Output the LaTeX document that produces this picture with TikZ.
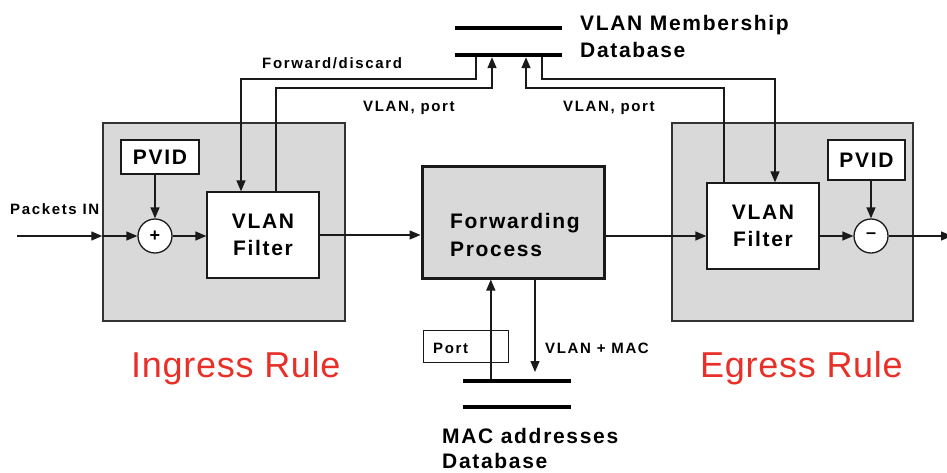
\documentclass[tikz,border=0pt]{standalone}
\usepackage{fontspec}
\setmainfont{Liberation Sans}
\newfontfamily\wbf[LetterSpace=8]{Liberation Sans Bold}
\newfontfamily\wbfs[LetterSpace=11]{Liberation Sans Bold}
\newfontfamily\rulefont[LetterSpace=2]{Liberation Sans}
\usetikzlibrary{arrows.meta}
\definecolor{boxgray}{RGB}{217,217,217}
\definecolor{inkline}{RGB}{26,26,26}
\definecolor{rulered}{RGB}{232,48,40}
\tikzset{
  arr/.style={draw=inkline, line width=1.4pt, -{Triangle[length=11pt,width=9pt]}},
  rulebox/.style={draw=black!80, line width=1.5pt, fill=boxgray, inner sep=0pt},
  whitebox/.style={draw=inkline, line width=1.3pt, fill=white, inner sep=0pt},
  dbline/.style={fill=black, inner sep=0pt, minimum height=4pt},
  sumnode/.style={circle, draw=inkline, line width=1.3pt, fill=white, minimum size=34pt, inner sep=0pt,
                  font=\wbf\fontsize{18}{18}\selectfont},
  big/.style={font=\wbf\fontsize{21}{27}\selectfont},
  small/.style={font=\wbfs\fontsize{15}{18}\selectfont},
  rulelabel/.style={font=\rulefont\fontsize{36}{40}\selectfont, text=rulered, anchor=base west, inner sep=0pt},
}
\begin{document}
\begin{tikzpicture}[x=1pt, y=-1pt]
\useasboundingbox (0,0) rectangle (947,472);

% --- VLAN membership database
\node[dbline, minimum width=107pt] (vmdb1) at (508.5,28) {};
\node[dbline, minimum width=107pt] (vmdb2) at (508.5,55) {};
\node[big, anchor=base west, inner sep=0pt] (vmdbt1) at (580,30) {VLAN Membership};
\node[big, anchor=base west, inner sep=0pt] (vmdbt2) at (580,57) {Database};

% --- ingress side
\node[rulebox, minimum width=242pt, minimum height=198pt] (ingress) at (224,222) {};
\node[whitebox, minimum width=78pt, minimum height=34pt, big] (pvidL) at (160,157) {PVID};
\node[sumnode] (plus) at (155,236) {+};
\node[whitebox, minimum width=112pt, minimum height=86pt, big, align=center] (filterL) at (263,235) {VLAN\\Filter};
\node[small, anchor=base west, inner sep=0pt] (pin) at (10,214) {Packets IN};

% --- forwarding process
\node[draw=inkline, line width=3pt, fill=boxgray, minimum width=182pt, minimum height=112pt, inner sep=0pt] (fwd) at (513,222) {};
\node[big, anchor=base west, inner sep=0pt] (fwdt1) at (450,228) {Forwarding};
\node[big, anchor=base west, inner sep=0pt] (fwdt2) at (450,256) {Process};

% --- egress side
\node[rulebox, minimum width=241pt, minimum height=198pt] (egress) at (792.5,222) {};
\node[whitebox, minimum width=77pt, minimum height=40pt, big] (pvidR) at (866.5,160) {PVID};
\node[sumnode] (minus) at (871,236) {–};
\node[whitebox, minimum width=112pt, minimum height=86pt, big, align=center] (filterR) at (763,226) {VLAN\\Filter};

% --- MAC address database
\node[whitebox, line width=1pt, minimum width=85pt, minimum height=32pt] (port) at (465.5,346) {};
\node[small, anchor=base west, inner sep=0pt] (portt) at (433,353) {Port};
\node[dbline, minimum width=108pt] (macdb1) at (517,381) {};
\node[dbline, minimum width=108pt] (macdb2) at (517,407) {};
\node[big, anchor=base west, inner sep=0pt] (macdbt1) at (442,443) {MAC addresses};
\node[big, anchor=base west, inner sep=0pt] (macdbt2) at (442,468) {Database};
\node[small, anchor=base west, inner sep=0pt] (vmac) at (545,353) {VLAN + MAC};

% --- rule captions
\node[rulelabel] (ingt) at (131,377) {Ingress Rule};
\node[rulelabel] (egt) at (700,377) {Egress Rule};

% --- labels on the database links
\node[small, anchor=base west, inner sep=0pt] (fdt) at (262,68) {Forward/discard};
\node[small, anchor=base west, inner sep=0pt] (vpt1) at (363,111) {VLAN, port};
\node[small, anchor=base west, inner sep=0pt] (vpt2) at (563,111) {VLAN, port};

% --- main packet path
\coordinate (in) at (17,236);
\coordinate (out) at (952,236);
\draw[arr] (in) -- (in -| ingress.west);
\draw[arr] (in -| ingress.west) -- (plus.west);
\draw[arr] (plus.east) -- (plus.east -| filterL.west);
\draw[arr] (filterL.east) -- (filterL.east -| fwd.west);
\draw[arr] (fwd.east |- minus) -- (filterR.west |- minus);
\draw[arr] (filterR.east |- minus) -- (minus.west);
\draw[arr] (minus.east) -- (out);
\draw[arr] (pvidL.south -| plus) -- (plus.north);
\draw[arr] (pvidR.south -| minus) -- (minus.north);

% --- links to the VLAN membership database
\coordinate (fdL) at (241,79);
\coordinate (vpL) at (492,88);
\coordinate (vpR) at (526,88);
\coordinate (fdR) at (775,79);
\draw[arr] ([xshift=21pt]vmdb2.south west) |- (fdL) -- (fdL |- filterL.north);
\draw[arr] ([xshift=13pt]filterL.north) |- (vpL) -- (vpL |- vmdb2.south);
\draw[arr] ([xshift=-39pt]filterR.north) |- (vpR) -- (vpR |- vmdb2.south);
\draw[arr] ([xshift=87pt]vmdb2.south west) |- (fdR) -- (fdR |- filterR.north);

% --- links to the MAC address database
\path ([xshift=28pt]macdb1.north west) coordinate (pa);
\draw[arr] (pa) -- (pa |- fwd.south);
\path ([xshift=22pt]fwd.south) coordinate (vm);
\coordinate (vmend) at (535,372);
\draw[arr] (vm) -- (vmend);
\end{tikzpicture}
\end{document}
